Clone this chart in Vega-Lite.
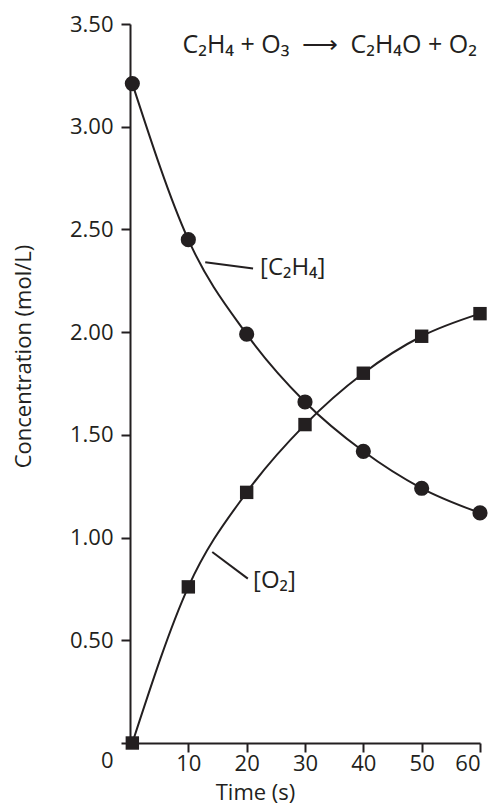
{
  "$schema": "https://vega.github.io/schema/vega-lite/v6.json",
  "width": 350,
  "height": 719,
  "autosize": "none",
  "padding": {"left": 130, "top": 24, "right": 16, "bottom": 64},
  "background": "white",
  "config": {
    "view": {"stroke": null},
    "font": "Open Sans",
    "axis": {
      "domainColor": "#231f20",
      "domainWidth": 2,
      "tickColor": "#231f20",
      "tickWidth": 2,
      "tickSize": 9,
      "labelColor": "#231f20",
      "labelFont": "Open Sans",
      "labelFontSize": 22,
      "titleColor": "#231f20",
      "titleFont": "Open Sans",
      "titleFontSize": 22,
      "titleFontWeight": "normal",
      "grid": false
    }
  },
  "datasets": {
    "conc": [
      {"time": 0.4, "conc": 3.21, "series": "C2H4"},
      {"time": 10, "conc": 2.45, "series": "C2H4"},
      {"time": 20, "conc": 1.99, "series": "C2H4"},
      {"time": 30, "conc": 1.66, "series": "C2H4"},
      {"time": 40, "conc": 1.42, "series": "C2H4"},
      {"time": 50, "conc": 1.24, "series": "C2H4"},
      {"time": 60, "conc": 1.12, "series": "C2H4"},
      {"time": 0.4, "conc": 0.0, "series": "O2"},
      {"time": 10, "conc": 0.76, "series": "O2"},
      {"time": 20, "conc": 1.22, "series": "O2"},
      {"time": 30, "conc": 1.55, "series": "O2"},
      {"time": 40, "conc": 1.8, "series": "O2"},
      {"time": 50, "conc": 1.98, "series": "O2"},
      {"time": 60, "conc": 2.09, "series": "O2"}
    ],
    "leaders": [
      {"t1": 12.9, "c1": 2.34, "t2": 21.1, "c2": 2.31},
      {"t1": 14.1, "c1": 0.93, "t2": 20.2, "c2": 0.8}
    ],
    "labels": [
      {"t": 22.3, "c": 2.31, "text": "[C₂H₄]"},
      {"t": 21.1, "c": 0.79, "text": "[O₂]"}
    ],
    "equation": [
      {"t": 9.0, "c": 3.40, "text": "C\u2082H\u2084 + O\u2083\u2002\u27F6\u2002C\u2082H\u2084O + O\u2082"}
    ]
  },
  "layer": [
    {
      "data": {"name": "conc"},
      "mark": {"type": "line", "interpolate": "monotone", "color": "#231f20", "strokeWidth": 2},
      "encoding": {
        "x": {
          "field": "time",
          "type": "quantitative",
          "scale": {"domain": [0, 60], "nice": false, "zero": false},
          "axis": {
            "values": [10, 20, 30, 40, 50, 60],
            "labelPadding": 1,
            "title": "Time (s)",
            "titleX": 125,
            "titleY": 56,
            "titleBaseline": "alphabetic",
            "titleAnchor": null
          }
        },
        "y": {
          "field": "conc",
          "type": "quantitative",
          "scale": {"domain": [0, 3.5], "nice": false},
          "axis": {
            "values": [0, 0.5, 1, 1.5, 2, 2.5, 3, 3.5],
            "labelExpr": "datum.value == 0 ? '0' : format(datum.value, '.2f')",
            "labelOffset": {"condition": {"test": "datum.value == 0", "value": 17}, "value": 0},
            "labelPadding": 8,
            "title": "Concentration (mol/L)",
            "titleX": -107,
            "titleY": 332,
            "titleAngle": -90,
            "titleBaseline": "middle",
            "titleAlign": "center"
          }
        },
        "detail": {"field": "series"}
      }
    },
    {
      "data": {"name": "conc"},
      "mark": {"type": "point", "filled": true, "opacity": 1, "color": "#231f20"},
      "encoding": {
        "x": {"field": "time", "type": "quantitative"},
        "y": {"field": "conc", "type": "quantitative"},
        "shape": {"field": "series", "type": "nominal", "scale": {"domain": ["C2H4", "O2"], "range": ["circle", "square"]}, "legend": null},
        "size": {"field": "series", "type": "nominal", "scale": {"domain": ["C2H4", "O2"], "range": [230, 180]}, "legend": null}
      }
    },
    {
      "data": {"name": "leaders"},
      "mark": {"type": "rule", "color": "#231f20", "strokeWidth": 2},
      "encoding": {
        "x": {"field": "t1", "type": "quantitative"},
        "y": {"field": "c1", "type": "quantitative"},
        "x2": {"field": "t2"},
        "y2": {"field": "c2"}
      }
    },
    {
      "data": {"name": "labels"},
      "mark": {"type": "text", "align": "left", "baseline": "middle", "fontSize": 24, "color": "#231f20", "font": "Open Sans"},
      "encoding": {
        "x": {"field": "t", "type": "quantitative"},
        "y": {"field": "c", "type": "quantitative"},
        "text": {"field": "text"}
      }
    },
    {
      "data": {"name": "equation"},
      "mark": {"type": "text", "align": "left", "baseline": "middle", "fontSize": 25, "color": "#231f20", "font": "Open Sans"},
      "encoding": {
        "x": {"field": "t", "type": "quantitative"},
        "y": {"field": "c", "type": "quantitative"},
        "text": {"field": "text"}
      }
    }
  ]
}
